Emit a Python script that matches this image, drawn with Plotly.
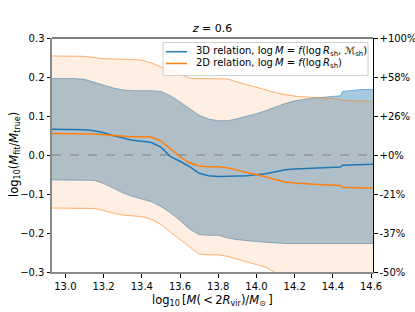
import plotly.graph_objects as go

x = [12.93, 13.00, 13.05, 13.10, 13.15, 13.20, 13.25, 13.30, 13.35, 13.40, 13.45, 13.50,
     13.55, 13.60, 13.65, 13.70, 13.75, 13.80, 13.85, 13.90, 13.95, 14.00, 14.05, 14.10,
     14.15, 14.20, 14.25, 14.30, 14.35, 14.40, 14.44, 14.45, 14.50, 14.55, 14.61]

upper_3d = [0.196, 0.196, 0.196, 0.194, 0.186, 0.180, 0.172, 0.167, 0.165, 0.165, 0.165, 0.163,
            0.152, 0.136, 0.118, 0.102, 0.092, 0.088, 0.088, 0.093, 0.100, 0.106, 0.114, 0.124,
            0.132, 0.139, 0.143, 0.146, 0.148, 0.150, 0.152, 0.163, 0.166, 0.168, 0.168]
median_3d = [0.066, 0.066, 0.066, 0.065, 0.062, 0.057, 0.050, 0.043, 0.038, 0.035, 0.032, 0.020,
             -0.004, -0.016, -0.030, -0.047, -0.053, -0.055, -0.055, -0.054, -0.053, -0.051, -0.048, -0.043,
             -0.038, -0.036, -0.035, -0.034, -0.033, -0.032, -0.031, -0.026, -0.025, -0.024, -0.024]
lower_3d = [-0.064, -0.064, -0.064, -0.064, -0.065, -0.073, -0.085, -0.097, -0.106, -0.113, -0.120, -0.132,
            -0.148, -0.168, -0.190, -0.204, -0.206, -0.206, -0.213, -0.217, -0.220, -0.222, -0.224, -0.226,
            -0.227, -0.227, -0.227, -0.227, -0.227, -0.227, -0.227, -0.227, -0.227, -0.227, -0.227]

upper_2d = [0.254, 0.254, 0.254, 0.253, 0.250, 0.247, 0.246, 0.246, 0.245, 0.243, 0.236, 0.226,
            0.217, 0.206, 0.197, 0.196, 0.196, 0.196, 0.195, 0.187, 0.180, 0.174, 0.167, 0.160,
            0.155, 0.151, 0.149, 0.148, 0.147, 0.145, 0.142, 0.140, 0.139, 0.138, 0.138]
median_2d = [0.055, 0.055, 0.055, 0.055, 0.054, 0.052, 0.050, 0.048, 0.047, 0.047, 0.046, 0.036,
             0.017, -0.004, -0.020, -0.028, -0.030, -0.030, -0.033, -0.040, -0.045, -0.050, -0.056, -0.063,
             -0.069, -0.072, -0.074, -0.075, -0.076, -0.077, -0.078, -0.083, -0.084, -0.085, -0.085]
lower_2d = [-0.136, -0.136, -0.136, -0.136, -0.137, -0.142, -0.149, -0.154, -0.156, -0.158, -0.165, -0.178,
            -0.198, -0.217, -0.235, -0.254, -0.256, -0.256, -0.260, -0.268, -0.274, -0.281, -0.288, -0.302,
            -0.310, -0.315, -0.318, -0.320, -0.322, -0.324, -0.325, -0.326, -0.327, -0.328, -0.328]

left_ticks = [0.3, 0.2, 0.1, 0.0, -0.1, -0.2, -0.3]
left_tick_text = ["0.3", "0.2", "0.1", "0.0", "\u22120.1", "\u22120.2", "\u22120.3"]
right_tick_text = ["+100%", "+58%", "+26%", "+0%", "-21%", "-37%", "-50%"]
x_ticks = [13.0, 13.2, 13.4, 13.6, 13.8, 14.0, 14.2, 14.4, 14.6]

legend_labels = [
    "3D relation, log\u2009<i>M</i> = <i>f</i>(log\u2009<i>R</i><sub>sh</sub>, \u2133<sub>sh</sub>)",
    "2D relation, log\u2009<i>M</i> = <i>f</i>(log\u2009<i>R</i><sub>sh</sub>)",
]

BLUE = "#1f77b4"
ORANGE = "#ff7f0e"
FONT = "DejaVu Sans"

W, H = 415, 312
ML, MR, MT, MB = 52, 42, 38, 40
PW, PH = W - ML - MR, H - MT - MB


def px(v):
    return (v - ML) / PW


def py(v):
    return (H - MB - v) / PH


fig = go.Figure()

# 3D band
fig.add_trace(go.Scatter(x=x, y=upper_3d, mode="lines", line=dict(color="rgba(31,119,180,0.5)", width=1),
                         showlegend=False, hoverinfo="skip"))
fig.add_trace(go.Scatter(x=x, y=lower_3d, mode="lines", line=dict(color="rgba(31,119,180,0.5)", width=1),
                         fill="tonexty", fillcolor="rgba(31,119,180,0.4)", showlegend=False, hoverinfo="skip"))
# 2D band
fig.add_trace(go.Scatter(x=x, y=upper_2d, mode="lines", line=dict(color="rgba(255,127,14,0.6)", width=1),
                         showlegend=False, hoverinfo="skip"))
fig.add_trace(go.Scatter(x=x, y=lower_2d, mode="lines", line=dict(color="rgba(255,127,14,0.6)", width=1),
                         fill="tonexty", fillcolor="rgba(255,127,14,0.12)", showlegend=False, hoverinfo="skip"))

# zero line
fig.add_trace(go.Scatter(x=[x[0], x[-1]], y=[0, 0], mode="lines",
                         line=dict(color="#808080", width=1.2, dash="dash"), showlegend=False, hoverinfo="skip"))

fig.add_trace(go.Scatter(x=x, y=median_3d, mode="lines", line=dict(color=BLUE, width=1.5),
                         name=legend_labels[0], showlegend=False))
fig.add_trace(go.Scatter(x=x, y=median_2d, mode="lines", line=dict(color=ORANGE, width=1.5),
                         name=legend_labels[1], showlegend=False))

# invisible trace for right axis
fig.add_trace(go.Scatter(x=[x[0]], y=[0], yaxis="y2", mode="lines", line=dict(width=0),
                         showlegend=False, hoverinfo="skip"))

shapes = [
    # top spine
    dict(type="line", xref="paper", yref="paper", x0=0, x1=1, y0=1, y1=1,
         line=dict(color="black", width=1), layer="above"),
    # manual legend box
    dict(type="rect", xref="paper", yref="paper", x0=px(163), x1=px(368), y0=py(75.5), y1=py(42.5),
         fillcolor="rgba(255,255,255,0.8)", line=dict(color="#d0d0d0", width=1), layer="above"),
]
annotations = []
for i, (lab, col) in enumerate(zip(legend_labels, [BLUE, ORANGE])):
    yy = [51.7, 63.5][i]
    shapes.append(dict(type="line", xref="paper", yref="paper", x0=px(166), x1=px(187), y0=py(yy), y1=py(yy),
                       line=dict(color=col, width=1.5), layer="above"))
    annotations.append(dict(text=lab, xref="paper", yref="paper", x=px(194), y=py(yy), xanchor="left",
                            yanchor="middle", showarrow=False, font=dict(size=10)))

# axis titles
annotations.append(dict(text="log<sub>10</sub>\u2009[<i>M</i>(\u2009&lt;\u20092<i>R</i><sub>vir</sub>)/<i>M</i><sub>\u2299</sub>\u2009]",
                        xref="paper", yref="paper", x=px(213), y=py(300), xanchor="center", yanchor="middle",
                        showarrow=False, font=dict(size=11.5)))
annotations.append(dict(text="log<sub>10</sub>(<i>M</i><sub>fit</sub>/<i>M</i><sub>true</sub>)",
                        xref="paper", yref="paper", x=px(14), y=py(155), xanchor="center", yanchor="middle",
                        textangle=-90, showarrow=False, font=dict(size=11.5)))

fig.update_layout(
    width=W, height=H,
    margin=dict(l=ML, r=MR, t=MT, b=MB),
    paper_bgcolor="white", plot_bgcolor="white",
    font=dict(family=FONT, size=10, color="black"),
    title=dict(text="<i>z</i> = 0.6", x=0.5, xref="paper", xanchor="center",
               y=1 - 28 / H, yanchor="middle", font=dict(size=11)),
    xaxis=dict(range=[x[0], x[-1]], tickvals=x_ticks, ticktext=[f"{t:.1f}" for t in x_ticks],
               ticks="outside", ticklen=3.5, tickcolor="black", showgrid=False, zeroline=False,
               showline=True, linecolor="#8a8a8a", linewidth=2, mirror=False, automargin=False),
    yaxis=dict(range=[-0.3, 0.3], tickvals=left_ticks, ticktext=left_tick_text,
               ticks="outside", ticklen=3.5, tickcolor="black", showgrid=False, zeroline=False,
               showline=True, linecolor="#8a8a8a", linewidth=2, mirror=False, automargin=False),
    yaxis2=dict(range=[-0.3, 0.3], overlaying="y", side="right", tickvals=left_ticks,
                ticktext=right_tick_text, ticks="outside", ticklen=3.5, tickcolor="black",
                showgrid=False, zeroline=False, showline=True, linecolor="black", linewidth=1,
                automargin=False),
    shapes=shapes,
    annotations=annotations,
    showlegend=False,
)

fig.write_html("out.html", config={"displayModeBar": False},
               post_script="document.body.style.margin='0px';document.body.style.overflow='hidden';")
